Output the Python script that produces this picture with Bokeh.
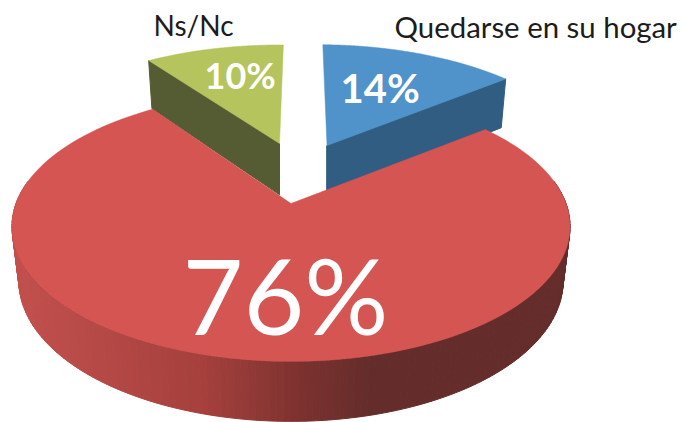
import numpy as np
from bokeh.plotting import figure
from bokeh.models import Range1d
from bokeh.core.properties import value
from bokeh.embed import file_html
from bokeh.resources import INLINE

# data
categories = ["Quedarse en su hogar", "Otros", "Ns/Nc"]
shares = [14, 76, 10]
first_angle = 1.0  # degrees clockwise from the far side of the pie

# style / layout
C_TOP = ["#4f93ca", "#d55553", "#b5c45c"]
C_SIDE = ["#315d83", None, "#555b33"]
FONT = "Lato"
W, H = 681, 422
RX, RY, PERSP = 275.0, 131.0, 0.17
# apex position, x scale, y scale, lean
PIECE = {0: (326.5, 145, 0.947, 0.90, 0.08),
         1: (290.5, 203, 1.0, 1.0, 0.0),
         2: (279, 143, 0.945, 0.88, 0.0)}
SHADE_X = [15, 100, 200, 260, 300, 370, 700]
SHADE_R = [194, 181, 166, 142, 125, 100, 100]
SHADE_G = [80, 73, 65, 56, 50, 45, 45]
SHADE_B = [77, 70, 62, 53, 48, 43, 43]


def project(theta, i):
    ax, ay, sx, sy, lean = PIECE[i]
    t = np.radians(theta)
    u, v = np.sin(t), np.cos(t)
    den = 1 + PERSP * v
    X, Y = RX * u / den * sx, -RY * v / den * sy
    return ax + X + lean * Y, ay + Y


def extrude(x, y, i):
    ax = PIECE[i][0]
    return ax + 0.975 * (x - ax), y + 45.6 + 0.04 * y


p = figure(width=W, height=H, x_range=Range1d(0, W), y_range=Range1d(H, 0),
           output_backend="svg", toolbar_location=None, min_border=0,
           outline_line_color=None, background_fill_color="white", border_fill_color="white")
p.axis.visible = False
p.grid.visible = False

edges = first_angle + np.cumsum([0] + shares) * 3.6
ranges = [(edges[i], edges[i + 1]) for i in range(3)]


def top_poly(i):
    a, b = ranges[i]
    th = np.linspace(a, b, 160)
    x, y = project(th, i)
    ax, ay = PIECE[i][:2]
    return np.r_[ax, x], np.r_[ay, y]


def cut_face(i, theta):
    ax, ay = PIECE[i][:2]
    ex, ey = project(np.array([theta]), i)
    x = np.array([ax, ex[0]])
    y = np.array([ay, ey[0]])
    bx, by = extrude(x, y, i)
    return np.r_[x, bx[::-1]], np.r_[y, by[::-1]]


for i, theta in ((2, ranges[2][0]), (0, ranges[0][1])):
    fx, fy = cut_face(i, theta)
    p.patch(fx, fy, fill_color=C_SIDE[i], line_color=C_SIDE[i], line_width=1)

# thin dark edge on the blue piece's near-left side
fx, fy = cut_face(0, ranges[0][0])
p.line(fx[[0, 3]], fy[[0, 3]], line_color=C_SIDE[0], line_width=1.5)

for i in (2, 0):
    tx, ty = top_poly(i)
    p.patch(tx, ty, fill_color=C_TOP[i], line_color=C_TOP[i], line_width=0.5)

# red piece: shaded rim, drawn as many narrow quads
th = np.linspace(80, 280, 161)
rx, ry = project(th, 1)
bx, by = extrude(rx, ry, 1)
xs, ys, cols = [], [], []
for k in range(len(th) - 1):
    xs.append([rx[k], rx[k + 1], bx[k + 1], bx[k]])
    ys.append([ry[k], ry[k + 1], by[k + 1], by[k]])
    mx = (rx[k] + rx[k + 1]) / 2
    c = [int(np.interp(mx, SHADE_X, s)) for s in (SHADE_R, SHADE_G, SHADE_B)]
    cols.append("#%02x%02x%02x" % tuple(c))
p.patches(xs, ys, fill_color=cols, line_color=cols, line_width=1)

tx, ty = top_poly(1)
p.patch(tx, ty, fill_color=C_TOP[1], line_color=C_TOP[1], line_width=0.5)


def label(x, base, txt, size, color="white", style="normal"):
    # the renderer draws the alphabetic baseline about 0.4 em below the anchor
    p.text([x], [base - 0.4 * size], text=[txt], text_color=color, text_font=value(FONT),
           text_baseline="alphabetic", text_font_size=f"{size}px", text_font_style=style)


label(340, 103, f"{shares[0]}%", 40, style="bold")
label(204, 89, f"{shares[2]}%", 36, style="bold")
label(182, 335, f"{shares[1]}%", 105)
label(394, 38, categories[0], 29.4, color="#1c1c1c")
label(153, 36, categories[2], 28, color="#1c1c1c")

open("out.html", "w").write(file_html(p, INLINE))
